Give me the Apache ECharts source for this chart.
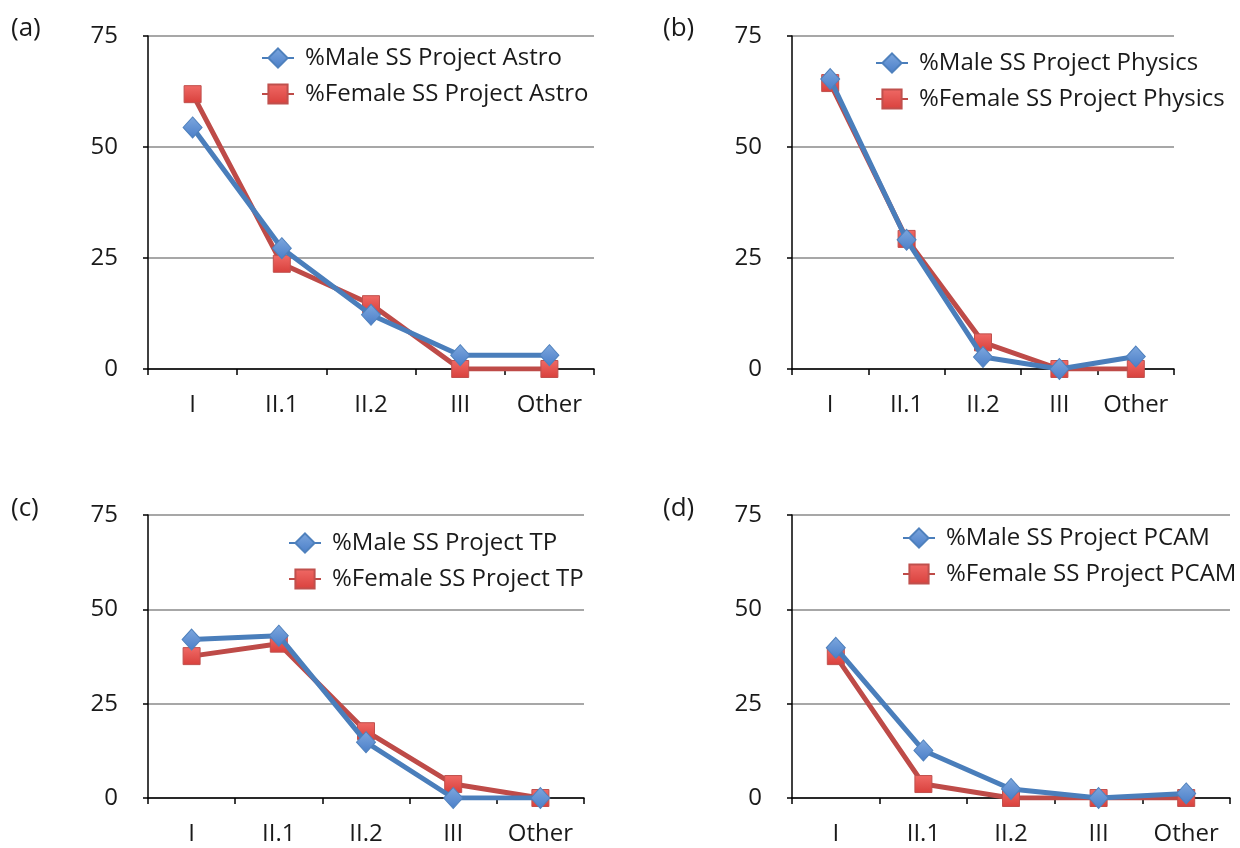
<!DOCTYPE html>
<html><head><meta charset="utf-8">
<script src="https://cdn.jsdelivr.net/npm/echarts@6/dist/echarts.min.js"></script>
<style>html,body{margin:0;padding:0;background:#fff}#c{width:1240px;height:848px}</style>
</head><body><div id="c"></div>
<script>
const categories = ['I', 'II.1', 'II.2', 'III', 'Other'];
const yTicks = [0, 25, 50, 75];
const panelLabels = ['(a)', '(b)', '(c)', '(d)'];
const projects = ['Astro', 'Physics', 'TP', 'PCAM'];

const maleAstro = [54.4, 27.2, 12.2, 3.1, 3.1];
const femaleAstro = [61.9, 23.7, 14.6, 0, 0];
const malePhysics = [65.3, 29.1, 2.7, 0, 2.8];
const femalePhysics = [64.4, 29.3, 6.0, 0, 0];
const maleTP = [42.0, 43.0, 14.8, 0, 0];
const femaleTP = [37.6, 40.9, 17.7, 3.7, 0];
const malePCAM = [39.8, 12.6, 2.4, 0, 1.2];
const femalePCAM = [37.6, 3.7, 0, 0, 0];

const maleData = [maleAstro, malePhysics, maleTP, malePCAM];
const femaleData = [femaleAstro, femalePhysics, femaleTP, femalePCAM];

const FONT = 'Open Sans';
const grids = [
  {left:148, top:36, width:446, height:333},
  {left:792, top:36, width:382, height:333},
  {left:148, top:515, width:436, height:283},
  {left:792, top:515, width:438, height:283}
];
const legendPos = [
  {left:256, top:40},
  {left:870, top:45},
  {left:283, top:525},
  {left:897, top:520}
];
const labelPos = [[11,16],[663,16],[11,496],[663,496]];

const blue = '#4A7EBB', red = '#BE4B48';
const xAxis = [], yAxis = [], series = [], legend = [], graphic = [];
grids.forEach((g, i) => {
  xAxis.push({
    type:'category', gridIndex:i, data:categories, boundaryGap:true,
    axisLine:{show:true, lineStyle:{color:'#000', width:1.5}},
    axisTick:{show:true, length:6, lineStyle:{color:'#000', width:1.5}},
    axisLabel:{color:'#1a1a1a', fontFamily:FONT, fontSize:24, margin:24, interval:0}
  });
  yAxis.push({
    type:'value', gridIndex:i, min:yTicks[0], max:yTicks[yTicks.length-1], interval:25,
    axisLine:{show:true, lineStyle:{color:'#000', width:1.5}},
    axisTick:{show:true, length:5, lineStyle:{color:'#000', width:1.5}},
    splitLine:{show:true, lineStyle:{color:'#8a8a8a', width:1.5}},
    axisLabel:{color:'#1a1a1a', fontFamily:FONT, fontSize:24, margin:30}
  });
  const mName = '%Male SS Project ' + projects[i];
  const fName = '%Female SS Project ' + projects[i];
  series.push({
    name:fName, type:'line', xAxisIndex:i, yAxisIndex:i, data:femaleData[i],
    symbol:'rect', symbolSize:17, z:2,
    lineStyle:{color:red, width:5},
    itemStyle:{color:new echarts.graphic.LinearGradient(0,0,0,1,[{offset:0,color:'#F06A66'},{offset:1,color:'#D8403C'}]), borderColor:'#C0504D', borderWidth:1},
    animation:false
  });
  series.push({
    name:mName, type:'line', xAxisIndex:i, yAxisIndex:i, data:maleData[i],
    symbol:'diamond', symbolSize:[19,21], z:3,
    lineStyle:{color:blue, width:5},
    itemStyle:{color:new echarts.graphic.LinearGradient(0,0,0,1,[{offset:0,color:'#7DA7DE'},{offset:1,color:'#4A7EC8'}]), borderColor:'#4F81BD', borderWidth:1},
    animation:false
  });
  legend.push({
    orient:'vertical', left:legendPos[i].left, top:legendPos[i].top,
    data:[mName, fName], itemWidth:32, itemHeight:24, itemGap:10,
    selectedMode:false,
    textStyle:{color:'#1a1a1a', fontFamily:FONT, fontSize:24, lineHeight:26, padding:[0,0,0,6]}
  });
  graphic.push({type:'text', left:labelPos[i][0], top:labelPos[i][1],
    style:{text:panelLabels[i], fill:'#1a1a1a', font:'26px "' + FONT + '"'}});
});

const chart = echarts.init(document.getElementById('c'));
chart.setOption({
  animation:false, backgroundColor:'#fff',
  grid:grids, xAxis, yAxis, series, legend, graphic
});
</script></body></html>
